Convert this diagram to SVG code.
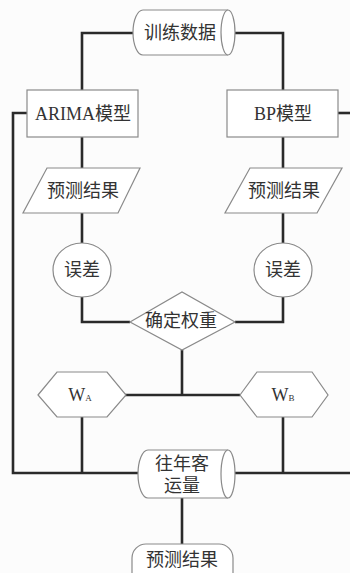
<svg xmlns="http://www.w3.org/2000/svg" width="350" height="573" viewBox="0 0 350 573">
<style>
.bg{fill:#fcfcfc}
.shape{fill:#fff;stroke:#8a8a8a;stroke-width:1.2}
.conn{fill:none;stroke:#2a2a2a;stroke-width:2.6}
.t{font-family:"Liberation Serif","Noto Sans CJK SC",serif;font-size:18px;fill:#333;text-anchor:middle;dominant-baseline:central}
.sub{font-size:9px}
</style>
<rect class="bg" x="0" y="0" width="350" height="573"/>
<g id="connectors">
<path class="conn" d="M133,33 H82 V90"/>
<path class="conn" d="M228,33 H283 V90"/>
<path class="conn" d="M27,113 H13 V473 H138"/>
<path class="conn" d="M338,113 H352"/>
<path class="conn" d="M82,137 V168 M82,213 V243 M82,297 V322 H130"/>
<path class="conn" d="M283,137 V168 M283,213 V243 M283,297 V322 H235"/>
<path class="conn" d="M182,350 V395 M125,395 H240"/>
<path class="conn" d="M82,417 V473 M283,417 V473"/>
<path class="conn" d="M228,473 H352"/>
<path class="conn" d="M182,498 V544"/>
</g>
<g id="train">
<path class="shape" d="M143,10 H228 A7,22.5 0 0 1 228,55 H143 A10,22.5 0 0 1 143,10 Z"/>
<path class="shape" fill="none" d="M228,10 A7,22.5 0 0 0 228,55"/>
<text class="t" x="180" y="33">训练数据</text>
</g>
<g id="arima">
<rect class="shape" x="27" y="90" width="111" height="47"/>
<text class="t" x="83" y="114">ARIMA模型</text>
</g>
<g id="bp">
<rect class="shape" x="227" y="90" width="111" height="47"/>
<text class="t" x="283" y="114">BP模型</text>
</g>
<g id="pred-a">
<polygon class="shape" points="47,168 140,168 118,213 23,213"/>
<text class="t" x="83" y="191">预测结果</text>
</g>
<g id="pred-b">
<polygon class="shape" points="250,168 342,168 317,213 225,213"/>
<text class="t" x="284" y="191">预测结果</text>
</g>
<g id="err-a">
<ellipse class="shape" cx="82" cy="270" rx="29" ry="27"/>
<text class="t" x="82" y="270">误差</text>
</g>
<g id="err-b">
<ellipse class="shape" cx="283" cy="270" rx="29" ry="27"/>
<text class="t" x="283" y="270">误差</text>
</g>
<g id="weight">
<polygon class="shape" points="130,322 182,292 235,322 182,350"/>
<text class="t" x="181" y="321">确定权重</text>
</g>
<g id="wa">
<polygon class="shape" points="38,395 57,372 107,372 126,395 107,417 57,417"/>
<text class="t" x="80" y="395">W<tspan class="sub" dy="3">A</tspan></text>
</g>
<g id="wb">
<polygon class="shape" points="240,395 257,372 312,372 328,395 312,417 257,417"/>
<text class="t" x="283" y="395">W<tspan class="sub" dy="3">B</tspan></text>
</g>
<g id="history">
<path class="shape" d="M148,450 H228 A7,24 0 0 1 228,498 H148 A10,24 0 0 1 148,450 Z"/>
<path class="shape" fill="none" d="M228,450 A7,24 0 0 0 228,498"/>
<text class="t" x="182" y="464">往年客</text>
<text class="t" x="182" y="486">运量</text>
</g>
<g id="result">
<rect class="shape" x="132" y="544" width="101" height="44" rx="14" ry="14"/>
<text class="t" x="182" y="560">预测结果</text>
</g>
</svg>
